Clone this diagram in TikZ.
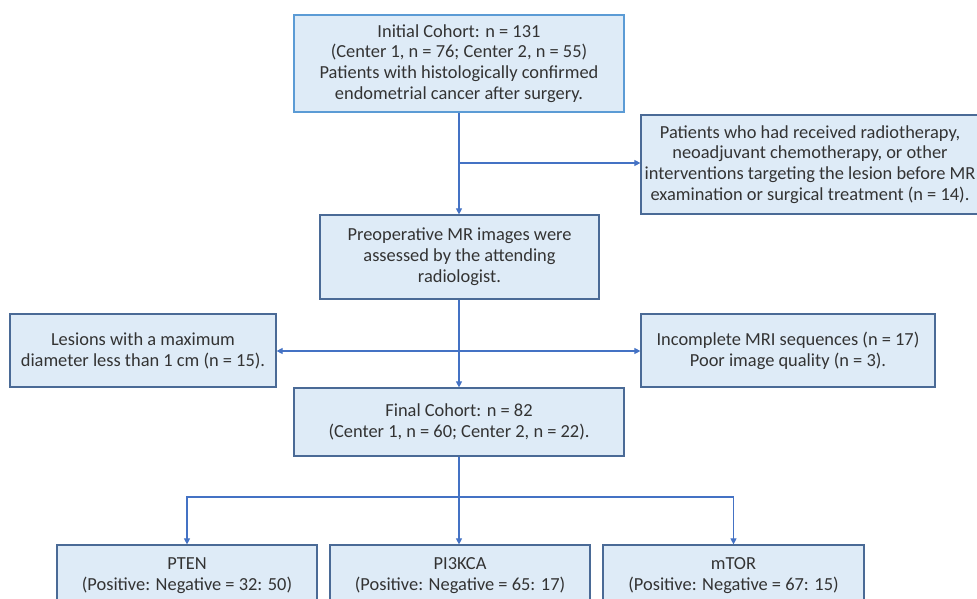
\documentclass[tikz,border=0pt]{standalone}
\usepackage{fontspec}
\setmainfont{Carlito}
\usepackage{tikz}
\usetikzlibrary{arrows.meta}
\definecolor{boxfill}{HTML}{DEEBF7}
\definecolor{boxline}{HTML}{4A6A96}
\definecolor{topline}{HTML}{5B9BD5}
\definecolor{arrowblue}{HTML}{4472C4}
\definecolor{txt}{HTML}{333333}

\begin{document}
\begin{tikzpicture}[x=0.75pt,y=-0.75pt,
	box/.style={draw=boxline, fill=boxfill, line width=0.9pt, align=center, text=txt,
		font=\fontsize{13.8}{15.6}\selectfont, inner sep=0pt},
	ln/.style={draw=arrowblue, line width=0.8pt},
	arr/.style={ln, -{Triangle[length=4.5pt,width=4.5pt]}}]
	\clip (0,0) rectangle (977,599);
	%\draw[help lines] (0,0) grid[step=50] (977,599);
	\node[box, draw=topline, minimum width=247.5pt, minimum height=72.75pt] (init) at (459,63.5)
		{Initial Cohort: n = 131\\(Center 1, n = 76; Center 2, n = 55)\\Patients with histologically confirmed\\endometrial cancer after surgery.};
	\node[box, minimum width=253.5pt, minimum height=74.25pt] (excl) at (810,164.5)
		{Patients who had received radiotherapy,\\neoadjuvant chemotherapy, or other\\interventions targeting the lesion before MR\\examination or surgical treatment (n = 14).};
	\node[box, minimum width=209.25pt, minimum height=63pt] (prep) at (459.5,257)
		{Preoperative MR images were\\assessed by the attending\\radiologist.};
	\node[box, minimum width=199.5pt, minimum height=54.75pt] (small) at (143,350.5)
		{Lesions with a maximum\\diameter less than 1 cm (n = 15).};
	\node[box, minimum width=220.5pt, minimum height=54.75pt] (mri) at (788,350.5)
		{Incomplete MRI sequences (n = 17)\\Poor image quality (n = 3).};
	\node[box, minimum width=247.5pt, minimum height=51pt] (final) at (459,422)
		{Final Cohort: n = 82\\(Center 1, n = 60; Center 2, n = 22).};
	\node[box, minimum width=195pt, minimum height=46.5pt] (pten) at (187,576)
		{PTEN\\(Positive: Negative = 32: 50)};
	\node[box, minimum width=195pt, minimum height=46.5pt] (pik) at (460,576)
		{PI3KCA\\(Positive: Negative = 65: 17)};
	\node[box, minimum width=195.75pt, minimum height=46.5pt] (mtor) at (733.5,576)
		{mTOR\\(Positive: Negative = 67: 15)};
	% connectors
	\coordinate (b1) at (459,163);
	\coordinate (b2) at (459,351);
	\coordinate (b3) at (459,497);
	\draw[arr] (init.south) -- (init.south |- prep.north);
	\draw[arr] (b1) -- (b1 -| excl.west);
	\draw[arr] (prep.south -| init.south) -- (init.south |- final.north);
	\draw[arr] (b2) -- (b2 -| small.east);
	\draw[arr] (b2) -- (b2 -| mri.west);
	\draw[ln] (final.south) -- (b3);
	\draw[arr] (b3) -| (pten.north);
	\draw[arr] (b3) -| (mtor.north);
	\draw[arr] (b3) -- (b3 |- pik.north);
\end{tikzpicture}
\end{document}
